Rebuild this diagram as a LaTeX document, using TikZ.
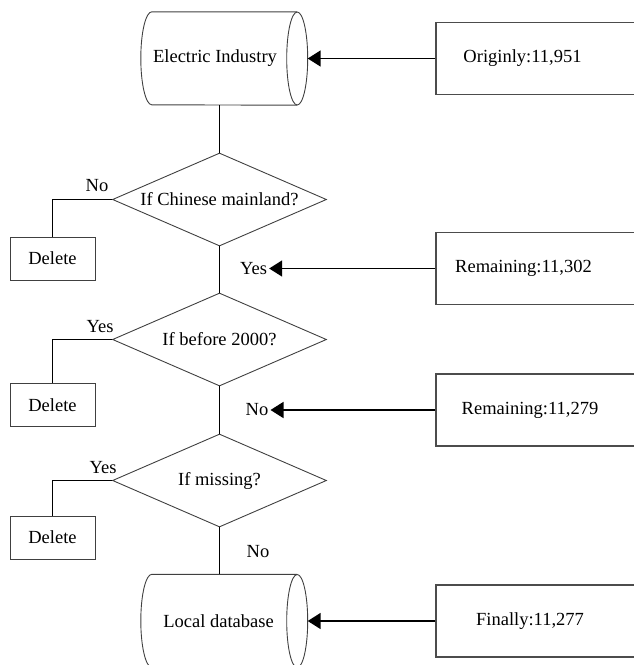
\documentclass[tikz,border=0pt]{standalone}
\usepackage{fontspec}
\setmainfont{Liberation Serif}
\usetikzlibrary{shapes.geometric,arrows.meta}
\newcommand\diagfont{\fontsize{18.5pt}{22pt}\selectfont}
\begin{document}
\begin{tikzpicture}[x=1pt,y=-1pt,
  every node/.style={font=\diagfont},
  outline/.style={draw=black!75,line width=0.9pt},
  conn/.style={draw=black,line width=1.6pt},
  tip/.style={-{Triangle[length=13pt,width=16pt]}},
  cylbox/.style={inner sep=0pt,minimum width=145pt,minimum height=93pt},
  decbox/.style={diamond,outline,aspect=2.3,inner sep=0pt,minimum width=214pt,minimum height=93pt},
  delbox/.style={rectangle,outline,inner sep=0pt,minimum width=85pt,minimum height=43pt},
  rbox/.style={rectangle,draw=black!70,line width=1.1pt,inner sep=0pt,minimum width=210pt,minimum height=72pt},
  lab/.style={inner sep=2pt}]
\useasboundingbox (0,0) rectangle (633,665);

% cylinders
\node[cylbox,label={[xshift=-9.5pt]center:Electric Industry}] (ei) at (224.5,58.5) {};
\draw[outline] (ei.north east) -- (ei.north west)
  arc[start angle=90,end angle=270,x radius=11pt,y radius=46.5pt] -- (ei.south east);
\draw[outline] (ei.east) ellipse[x radius=10.5pt,y radius=46.5pt];
\coordinate (eiR) at ([xshift=10.5pt]ei.east);

\node[cylbox,label={[xshift=-6pt]center:Local database}] (ld) at (224.5,621) {};
\draw[outline] (ld.north east) -- (ld.north west)
  arc[start angle=90,end angle=270,x radius=11pt,y radius=46.5pt] -- (ld.south east);
\draw[outline] (ld.east) ellipse[x radius=10.5pt,y radius=46.5pt];
\coordinate (ldR) at ([xshift=10.5pt]ld.east);

% decisions
\node[decbox] (d1) at (219.5,199.5) {If Chinese mainland?};
\node[decbox] (d2) at (219.5,339.5) {If before 2000?};
\node[decbox] (d3) at (219.5,480.5) {If missing?};

% delete boxes
\node[delbox] (x1) at (52.5,258.5) {Delete};
\node[delbox] (x2) at (52.5,405) {Delete};
\node[delbox] (x3) at (52.5,537.5) {Delete};

% right boxes
\node[rbox,label={[xshift=-18.5pt]center:Originly:11,951}] (r0) at (541,58.5) {};
\node[rbox,label={[xshift=-17.5pt]center:Remaining:11,302}] (r1) at (541,268.5) {};
\node[rbox,label={[xshift=-11pt]center:Remaining:11,279}] (r2) at (541,410) {};
\node[rbox,label={[xshift=-11pt]center:Finally:11,277}] (r3) at (541,621) {};

% labels
\node[lab] (no1) at (97,186) {No};
\node[lab] (yes2) at (100,327) {Yes};
\node[lab] (yes3) at (103,468) {Yes};
\node[lab] (yes1) at (253.5,268.5) {Yes};
\node[lab] (no2) at (257,410) {No};
\node[lab] (no3) at (258,552) {No};

% connectors
\draw[conn] (d1.north |- ei.south) -- (d1.north);
\draw[conn] (d1.south) -- (d2.north);
\draw[conn] (d2.south) -- (d3.north);
\draw[conn] (d3.south) -- (d3.south |- ld.north);
\draw[conn] (d1.west) -| (x1.north);
\draw[conn] (d2.west) -| (x2.north);
\draw[conn] (d3.west) -| (x3.north);
\draw[conn,tip] (r0.west) -- (eiR);
\draw[conn,tip] (r1.west) -- (yes1.east);
\draw[conn,tip] (r2.west) -- (no2.east);
\draw[conn,tip] (r3.west) -- (ldR);
\end{tikzpicture}
\end{document}
